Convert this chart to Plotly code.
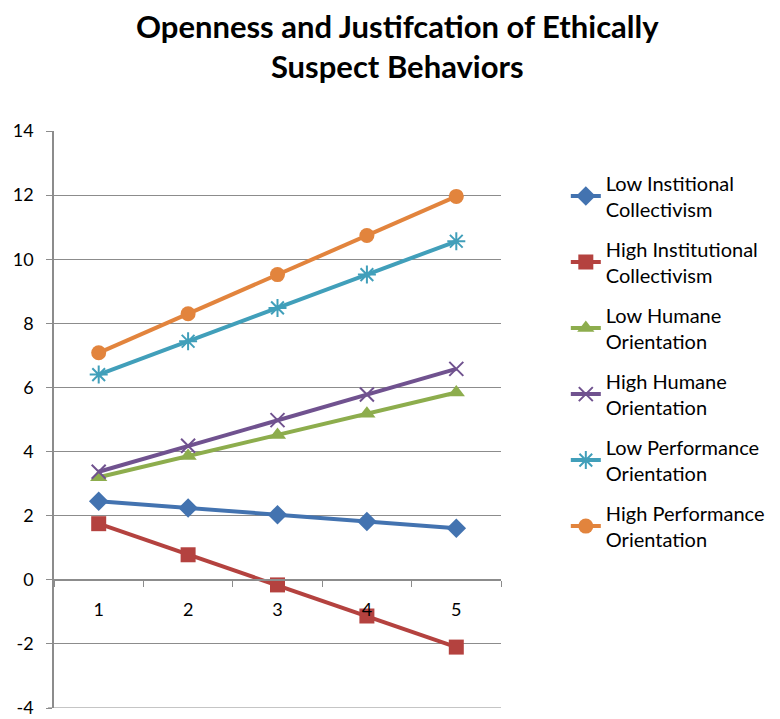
import plotly.graph_objects as go

categories = ["1", "2", "3", "4", "5"]

series_names = [
    "Low Institional<br>Collectivism",
    "High Institutional<br>Collectivism",
    "Low Humane<br>Orientation",
    "High Humane<br>Orientation",
    "Low Performance<br>Orientation",
    "High Performance<br>Orientation",
]

low_inst_coll = [2.45, 2.24, 2.03, 1.82, 1.61]
high_inst_coll = [1.75, 0.78, -0.16, -1.13, -2.10]
low_humane = [3.2, 3.86, 4.52, 5.18, 5.84]
high_humane = [3.37, 4.18, 4.98, 5.78, 6.58]
low_perf = [6.40, 7.44, 8.48, 9.52, 10.56]
high_perf = [7.08, 8.30, 9.52, 10.74, 11.96]

y_ticks = [-4, -2, 0, 2, 4, 6, 8, 10, 12, 14]
y_tick_labels = ["-4", "-2", "0", "2", "4", "6", "8", "10", "12", "14"]

series_values = [low_inst_coll, high_inst_coll, low_humane, high_humane, low_perf, high_perf]
colors = ["#4373B0", "#B4423F", "#8DAD4D", "#70528F", "#419FBA", "#E2843D"]
symbols = ["diamond", "square", "triangle-up", "x-thin", "asterisk", "circle"]
sizes = [15, 15, 15, 14, 15, 15]

fig = go.Figure()
for i, (name, vals, col, sym, sz) in enumerate(zip(series_names, series_values, colors, symbols, sizes)):
    marker = dict(symbol=sym, size=sz, color=col)
    if sym in ("x-thin", "asterisk"):
        marker["line"] = dict(color=col, width=2)
    fig.add_trace(go.Scatter(
        x=categories, y=vals, name=name, mode="lines+markers",
        xaxis="x2", yaxis="y",
        legendgroup=f"g{i}",
        line=dict(color=col, width=4), marker=marker,
    ))

ymin, ymax = -4, 14
grid = "#8c8c8c"
plot_w = 780 - 54 - 279
fig.update_layout(
    width=780, height=719,
    margin=dict(l=54, r=279, t=131, b=11, autoexpand=False),
    paper_bgcolor="white", plot_bgcolor="white",
    font=dict(family="Lato, 'Open Sans', sans-serif", color="black"),
    # base x axis at the bottom, kept invisible; the category axis crosses at y = 0
    xaxis=dict(
        range=[0, 1], showline=False, showgrid=False, zeroline=False,
        showticklabels=False, ticks="", automargin=False,
    ),
    xaxis2=dict(
        type="category", range=[-0.5, 4.5], overlaying="x",
        anchor="free", position=(0 - ymin) / (ymax - ymin),
        showline=True, linecolor=grid, linewidth=1.5,
        ticks="outside", tickson="boundaries", ticklen=6, tickcolor=grid,
        tickfont=dict(size=18), ticklabelstandoff=14, showgrid=False,
        zeroline=False, automargin=False,
    ),
    yaxis=dict(
        range=[ymin, ymax], tickvals=y_ticks, ticktext=y_tick_labels,
        showline=True, linecolor=grid, linewidth=1.5,
        ticks="outside", ticklen=6, tickcolor=grid,
        showgrid=True, gridcolor=grid, gridwidth=1.2,
        zeroline=False, tickfont=dict(size=18), ticklabelstandoff=9,
        ticklabeloverflow="allow", automargin=False,
    ),
    legend=dict(
        x=1.145, y=0.9435, xanchor="left", yanchor="top",
        font=dict(size=20), tracegroupgap=11,
        bgcolor="rgba(0,0,0,0)",
    ),
    showlegend=True,
    # bottom gridline and tick at the lower end of the value axis
    shapes=[
        dict(type="line", xref="paper", yref="y", x0=0, x1=1, y0=ymin, y1=ymin,
             line=dict(color=grid, width=1.2), layer="below"),
        dict(type="line", xref="paper", yref="y", x0=-6 / plot_w, x1=0, y0=ymin, y1=ymin,
             line=dict(color=grid, width=1.2), layer="below"),
    ],
    annotations=[dict(
        text="<b>Openness and Justifcation of Ethically<br>Suspect Behaviors</b>",
        xref="paper", yref="paper", x=0.768, y=1.218,
        xanchor="center", yanchor="top", showarrow=False,
        font=dict(size=31, color="black"),
    )],
)

fig.write_html("out.html")
